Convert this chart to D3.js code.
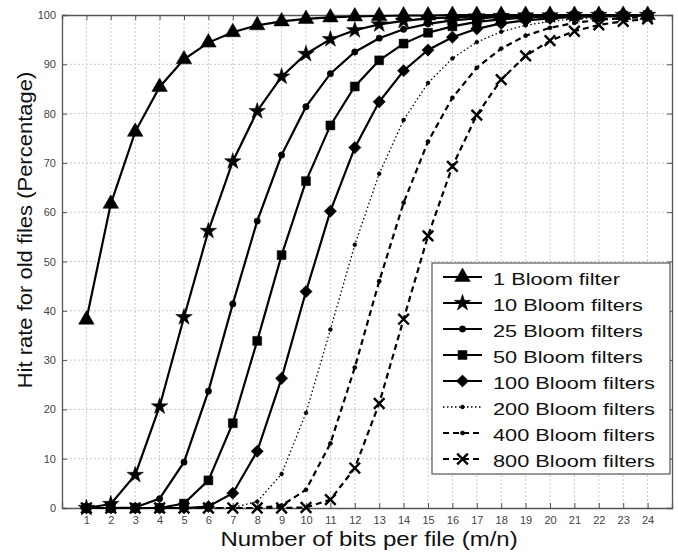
<!DOCTYPE html>
<html><head><meta charset="utf-8">
<script src="https://cdn.jsdelivr.net/npm/d3@7"></script>
<style>
html,body{margin:0;padding:0;background:#fff;}
svg{display:block;font-family:"Liberation Sans",Arial,sans-serif;}
</style></head>
<body><svg id="c" width="678" height="554"></svg>
<script>
const bitsPerFile = [1,2,3,4,5,6,7,8,9,10,11,12,13,14,15,16,17,18,19,20,21,22,23,24];
const xTicks = [1,2,3,4,5,6,7,8,9,10,11,12,13,14,15,16,17,18,19,20,21,22,23,24];
const yTicks = [0,10,20,30,40,50,60,70,80,90,100];
const seriesNames = ["1 Bloom filter","10 Bloom filters","25 Bloom filters","50 Bloom filters","100 Bloom filters","200 Bloom filters","400 Bloom filters","800 Bloom filters"];
const bloom1   = [38.2,61.7,76.3,85.4,91.0,94.4,96.5,97.9,98.7,99.2,99.5,99.7,99.8,99.9,99.9,100,100,100,100,100,100,100,100,100];
const bloom10  = [0.0,0.8,6.7,20.6,38.7,56.2,70.3,80.5,87.5,92.1,95.1,96.9,98.1,98.8,99.3,99.5,99.7,99.8,99.9,99.9,100,100,100,100];
const bloom25  = [0.0,0.0,0.1,1.9,9.3,23.7,41.4,58.2,71.6,81.4,88.1,92.5,95.3,97.1,98.2,98.9,99.3,99.6,99.7,99.8,99.9,99.9,100,100];
const bloom50  = [0.0,0.0,0.0,0.0,0.9,5.6,17.2,33.9,51.3,66.3,77.6,85.5,90.8,94.2,96.4,97.7,98.6,99.1,99.5,99.7,99.8,99.9,99.9,100];
const bloom100 = [0.0,0.0,0.0,0.0,0.0,0.3,3.0,11.5,26.3,43.9,60.2,73.1,82.4,88.7,92.9,95.5,97.2,98.3,98.9,99.3,99.6,99.7,99.8,99.9];
const bloom200 = [0.0,0.0,0.0,0.0,0.0,0.0,0.1,1.3,6.9,19.3,36.2,53.4,67.8,78.7,86.2,91.2,94.5,96.6,97.9,98.7,99.2,99.5,99.7,99.8];
const bloom400 = [0.0,0.0,0.0,0.0,0.0,0.0,0.0,0.0,0.5,3.7,13.1,28.5,46.0,61.9,74.3,83.2,89.3,93.2,95.8,97.4,98.4,99.0,99.4,99.6];
const bloom800 = [0.0,0.0,0.0,0.0,0.0,0.0,0.0,0.0,0.0,0.1,1.7,8.1,21.2,38.3,55.2,69.3,79.7,86.9,91.7,94.8,96.7,98.0,98.7,99.2];
const allSeries = [bloom1,bloom10,bloom25,bloom50,bloom100,bloom200,bloom400,bloom800];

const styles = [
  {sym:d3.symbolTriangle, size:105, rot:0, dash:null, fill:true, lw:2.2},
  {sym:d3.symbolStar, size:85, rot:0, dash:null, fill:true, lw:2.2},
  {sym:d3.symbolCircle, size:32, rot:0, dash:null, fill:true, lw:2.2},
  {sym:d3.symbolSquare, size:80, rot:0, dash:null, fill:true, lw:2.2},
  {sym:d3.symbolSquare, size:75, rot:45, dash:null, fill:true, lw:2.2},
  {sym:d3.symbolCircle, size:12, rot:0, dash:"1.5,2.5", fill:true, lw:1.3},
  {sym:d3.symbolCircle, size:14, rot:0, dash:"6,4", fill:true, lw:2.2},
  {sym:d3.symbolTimes, size:75, rot:0, dash:"6,4", fill:false, lw:2.2}
];

const svg = d3.select("#c");
const m = {l:62, r:672, t:15, b:508};
const x = d3.scaleLinear().domain([0,25]).range([m.l, m.r]);
const y = d3.scaleLinear().domain([0,100]).range([m.b, m.t]);

// grid
const grid = svg.append("g");
grid.selectAll("line.v").data(xTicks).join("line")
  .attr("x1",d=>x(d)).attr("x2",d=>x(d)).attr("y1",m.t).attr("y2",m.b)
  .attr("stroke","#c8c8c8").attr("stroke-width",1).attr("stroke-dasharray","2,2");
grid.selectAll("line.h").data(yTicks.slice(1,-1)).join("line")
  .attr("y1",d=>y(d)).attr("y2",d=>y(d)).attr("x1",m.l).attr("x2",m.r)
  .attr("stroke","#c8c8c8").attr("stroke-width",1).attr("stroke-dasharray","2,2");

// axes
const xAxis = svg.append("g").attr("transform",`translate(0,${m.b})`)
  .call(d3.axisBottom(x).tickValues(xTicks).tickSize(-5).tickPadding(8));
const yAxis = svg.append("g").attr("transform",`translate(${m.l},0)`)
  .call(d3.axisLeft(y).tickValues(yTicks).tickSize(-5).tickPadding(6));
const yAxisR = svg.append("g").attr("transform",`translate(${m.r},0)`)
  .call(d3.axisRight(y).tickValues(yTicks).tickSize(-5).tickFormat(""));
const xAxisT = svg.append("g").attr("transform",`translate(0,${m.t})`)
  .call(d3.axisTop(x).tickValues(xTicks).tickSize(-5).tickFormat(""));
[xAxis,yAxis,yAxisR,xAxisT].forEach(g=>{
  g.select(".domain").attr("stroke","#555").attr("stroke-width",1.3);
  g.selectAll(".tick line").attr("stroke","#555");
  g.selectAll(".tick text").attr("fill","#444").style("font-size","11px");
});

// lines
const line = d3.line().x((d,i)=>x(bitsPerFile[i])).y(d=>y(d));
allSeries.forEach((s,k)=>{
  const st = styles[k];
  svg.append("path").datum(s).attr("d",line).attr("fill","none")
    .attr("stroke","#000").attr("stroke-width",st.lw)
    .attr("stroke-dasharray",st.dash);
  svg.append("g").selectAll("path").data(s).join("path")
    .attr("d",d3.symbol().type(st.sym).size(st.size))
    .attr("transform",(d,i)=>`translate(${x(bitsPerFile[i])},${y(d)}) rotate(${st.rot})`)
    .attr("fill",st.fill?"#000":"none").attr("stroke","#000")
    .attr("stroke-width",st.fill?0.5:2.4);
});

// labels
svg.append("text").attr("transform","translate(369,546) scale(1.2,1)").attr("text-anchor","middle")
  .style("font-size","20px").attr("fill","#111").text("Number of bits per file (m/n)");
svg.append("text").attr("transform",`translate(32,230) rotate(-90) scale(1.1,1)`)
  .attr("text-anchor","middle")
  .style("font-size","20px").attr("fill","#111")
  .text("Hit rate for old files (Percentage)");

// legend
const lg = svg.append("g");
lg.append("rect").attr("x",432).attr("y",263).attr("width",238).attr("height",211)
  .attr("fill","#fff").attr("stroke","#555").attr("stroke-width",1.2);
seriesNames.forEach((name,k)=>{
  const st = styles[k];
  const cy = 277 + k*26;
  lg.append("line").attr("x1",443).attr("x2",482).attr("y1",cy).attr("y2",cy)
    .attr("stroke","#000").attr("stroke-width",st.lw).attr("stroke-dasharray",st.dash);
  lg.append("path").attr("d",d3.symbol().type(st.sym).size(st.size))
    .attr("transform",`translate(462.5,${cy}) rotate(${st.rot})`)
    .attr("fill",st.fill?"#000":"none").attr("stroke","#000")
    .attr("stroke-width",st.fill?0.5:2.4);
  lg.append("text").attr("transform",`translate(493,${cy+8}) scale(1.28,1)`)
    .style("font-size","17px").attr("fill","#111").text(name);
});
</script></body></html>
